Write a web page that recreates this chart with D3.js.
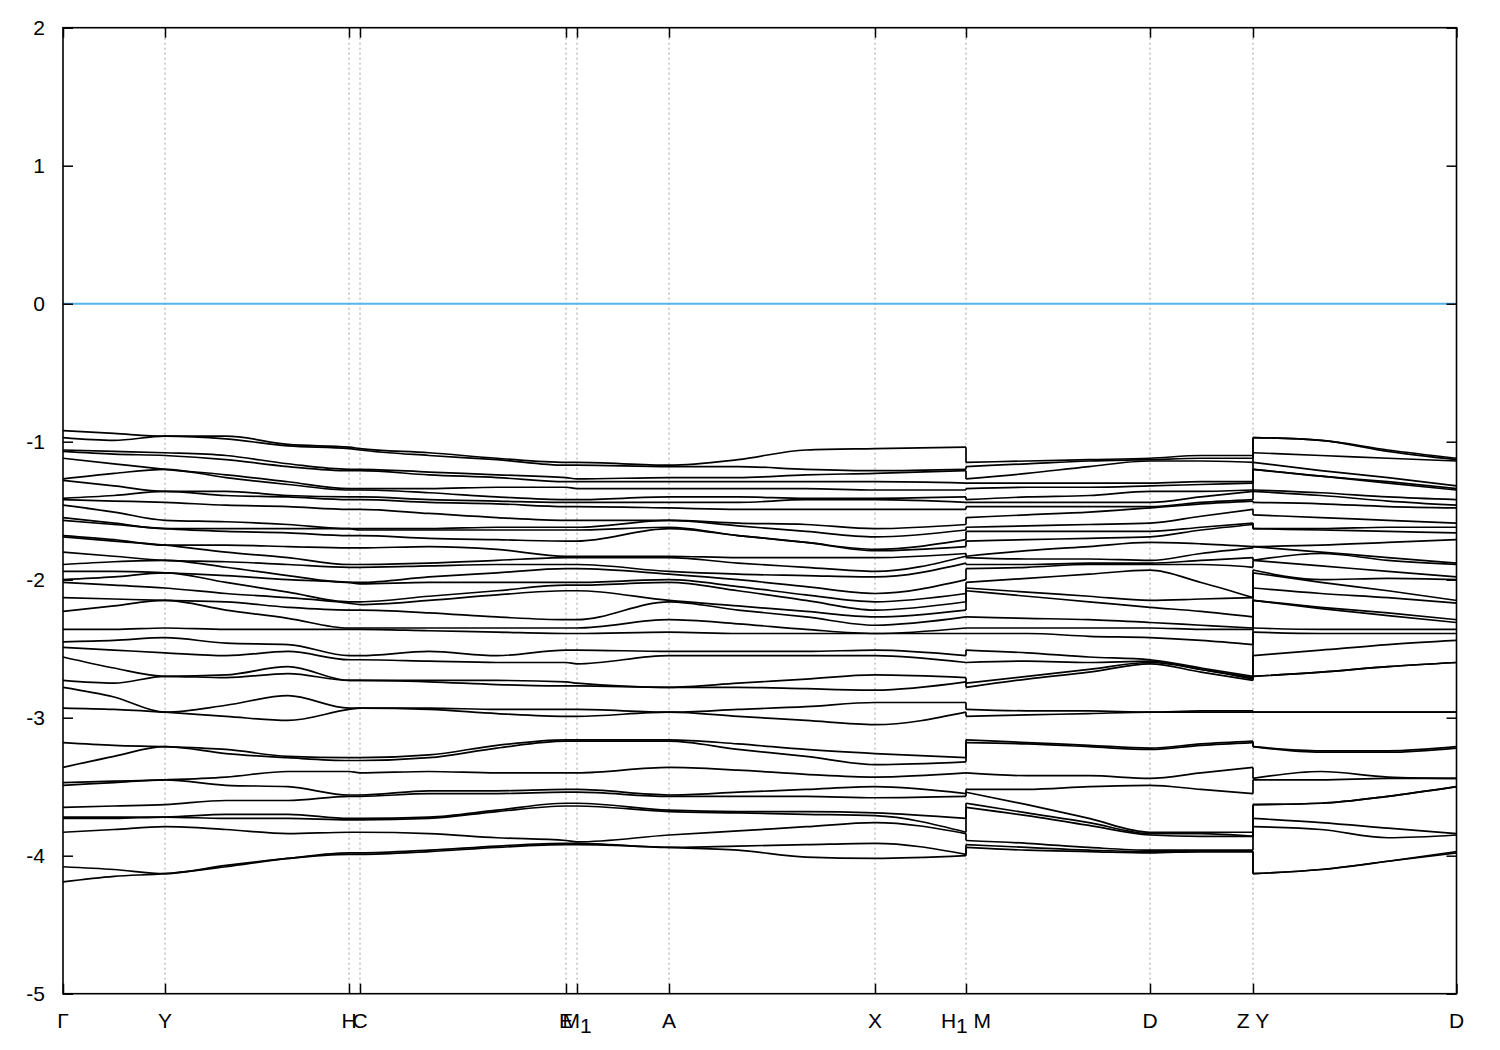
<!DOCTYPE html>
<html><head><meta charset="utf-8">
<script src="https://cdn.jsdelivr.net/npm/d3@7"></script>
<style>body{margin:0;background:#fff}</style>
</head><body><svg id="c" width="1500" height="1050"></svg>
<script>
// ---- data ----
const yTicks = [2, 1, 0, -1, -2, -3, -4, -5];
const kTicks = [0, 1.02, 2.86, 2.97, 5.03, 5.14, 6.06, 8.12, 9.03, 10.87, 11.90, 13.935];
const kLabels = ["Γ", "Y", "H", "C", "E", "M_1", "A", "X", "H_1 M", "D", "Z Y", "D"];
const fermiLevel = 0;

// k grid for the three continuous pieces of the path
const k1 = [0, 0.51, 1.02, 1.63, 2.25, 2.86, 2.97, 3.66, 4.34, 5.03, 5.14, 6.06, 6.75, 7.43, 8.12, 9.03];
const k2 = [9.03, 9.64, 10.26, 10.87, 11.38, 11.90];
const k3 = [11.90, 12.58, 13.25, 13.935];

// band energies (eV), one array per k column, bands sorted from top to bottom
const seg1 = [
 [-0.92,-0.97,-1.06,-1.07,-1.12,-1.27,-1.28,-1.41,-1.42,-1.46,-1.55,-1.57,-1.68,-1.69,-1.80,-1.89,-1.94,-2.00,-2.02,-2.13,-2.23,-2.36,-2.45,-2.49,-2.56,-2.73,-2.78,-2.93,-3.18,-3.36,-3.47,-3.49,-3.65,-3.72,-3.73,-3.83,-4.08,-4.19],
 [-0.94,-0.99,-1.07,-1.09,-1.16,-1.23,-1.32,-1.39,-1.43,-1.51,-1.59,-1.60,-1.71,-1.72,-1.83,-1.87,-1.94,-1.98,-2.04,-2.14,-2.19,-2.36,-2.44,-2.51,-2.64,-2.75,-2.85,-2.94,-3.20,-3.28,-3.46,-3.47,-3.64,-3.72,-3.73,-3.81,-4.10,-4.15],
 [-0.96,-0.96,-1.08,-1.10,-1.20,-1.20,-1.36,-1.36,-1.44,-1.57,-1.63,-1.63,-1.75,-1.75,-1.86,-1.86,-1.95,-1.95,-2.06,-2.15,-2.15,-2.35,-2.42,-2.53,-2.70,-2.70,-2.96,-2.96,-3.21,-3.21,-3.45,-3.45,-3.63,-3.72,-3.72,-3.79,-4.13,-4.13],
 [-0.96,-0.98,-1.10,-1.13,-1.24,-1.26,-1.36,-1.39,-1.46,-1.58,-1.63,-1.65,-1.75,-1.80,-1.87,-1.91,-1.97,-2.02,-2.10,-2.16,-2.22,-2.36,-2.46,-2.55,-2.69,-2.71,-2.91,-2.99,-3.23,-3.26,-3.43,-3.49,-3.60,-3.70,-3.73,-3.81,-4.07,-4.08],
 [-1.02,-1.03,-1.16,-1.18,-1.29,-1.31,-1.39,-1.40,-1.47,-1.60,-1.63,-1.66,-1.76,-1.84,-1.89,-1.97,-2.00,-2.09,-2.13,-2.20,-2.28,-2.36,-2.47,-2.52,-2.63,-2.68,-2.84,-3.02,-3.28,-3.29,-3.39,-3.50,-3.60,-3.70,-3.73,-3.84,-4.02,-4.02],
 [-1.04,-1.05,-1.20,-1.21,-1.34,-1.35,-1.40,-1.42,-1.49,-1.63,-1.63,-1.68,-1.77,-1.89,-1.91,-2.02,-2.02,-2.16,-2.17,-2.22,-2.35,-2.36,-2.55,-2.58,-2.73,-2.73,-2.93,-2.94,-3.29,-3.31,-3.39,-3.56,-3.57,-3.73,-3.74,-3.83,-3.98,-3.99],
 [-1.05,-1.06,-1.20,-1.21,-1.34,-1.35,-1.40,-1.42,-1.49,-1.63,-1.64,-1.68,-1.77,-1.89,-1.91,-2.02,-2.03,-2.16,-2.18,-2.22,-2.35,-2.36,-2.55,-2.58,-2.73,-2.73,-2.93,-2.93,-3.29,-3.31,-3.40,-3.56,-3.57,-3.73,-3.74,-3.83,-3.98,-3.99],
 [-1.08,-1.10,-1.22,-1.24,-1.34,-1.37,-1.42,-1.44,-1.52,-1.63,-1.64,-1.70,-1.76,-1.88,-1.90,-1.98,-2.02,-2.12,-2.15,-2.24,-2.35,-2.37,-2.52,-2.59,-2.73,-2.74,-2.93,-2.94,-3.27,-3.29,-3.39,-3.53,-3.55,-3.72,-3.73,-3.84,-3.96,-3.97],
 [-1.12,-1.13,-1.24,-1.26,-1.33,-1.40,-1.43,-1.45,-1.55,-1.62,-1.64,-1.71,-1.78,-1.86,-1.89,-1.95,-2.02,-2.08,-2.11,-2.27,-2.35,-2.38,-2.55,-2.60,-2.73,-2.76,-2.94,-2.97,-3.20,-3.22,-3.40,-3.53,-3.55,-3.67,-3.68,-3.87,-3.93,-3.94],
 [-1.15,-1.17,-1.26,-1.29,-1.33,-1.42,-1.44,-1.47,-1.57,-1.62,-1.64,-1.72,-1.83,-1.84,-1.89,-1.92,-2.02,-2.04,-2.08,-2.29,-2.35,-2.39,-2.51,-2.60,-2.74,-2.77,-2.94,-2.99,-3.16,-3.17,-3.40,-3.52,-3.54,-3.62,-3.64,-3.89,-3.91,-3.92],
 [-1.15,-1.17,-1.27,-1.29,-1.34,-1.42,-1.44,-1.47,-1.57,-1.62,-1.64,-1.72,-1.83,-1.84,-1.89,-1.92,-2.02,-2.04,-2.08,-2.29,-2.35,-2.39,-2.51,-2.61,-2.75,-2.77,-2.94,-2.99,-3.16,-3.17,-3.40,-3.52,-3.54,-3.62,-3.64,-3.90,-3.91,-3.92],
 [-1.17,-1.18,-1.26,-1.29,-1.34,-1.40,-1.44,-1.48,-1.57,-1.57,-1.62,-1.63,-1.83,-1.84,-1.94,-1.96,-2.00,-2.02,-2.15,-2.16,-2.29,-2.38,-2.52,-2.55,-2.78,-2.78,-2.96,-2.96,-3.16,-3.17,-3.36,-3.56,-3.57,-3.67,-3.68,-3.85,-3.94,-3.94],
 [-1.13,-1.18,-1.26,-1.29,-1.34,-1.40,-1.44,-1.49,-1.59,-1.61,-1.68,-1.68,-1.84,-1.88,-1.96,-2.00,-2.05,-2.08,-2.19,-2.22,-2.32,-2.39,-2.52,-2.55,-2.75,-2.78,-2.94,-2.99,-3.19,-3.23,-3.38,-3.54,-3.57,-3.68,-3.69,-3.82,-3.93,-3.96],
 [-1.06,-1.20,-1.24,-1.29,-1.34,-1.41,-1.42,-1.49,-1.60,-1.65,-1.73,-1.73,-1.84,-1.91,-1.97,-2.05,-2.11,-2.15,-2.23,-2.27,-2.36,-2.39,-2.52,-2.55,-2.72,-2.79,-2.92,-3.02,-3.23,-3.28,-3.41,-3.52,-3.57,-3.68,-3.70,-3.79,-3.92,-4.01],
 [-1.05,-1.21,-1.23,-1.29,-1.35,-1.41,-1.42,-1.49,-1.63,-1.69,-1.78,-1.79,-1.84,-1.94,-1.98,-2.10,-2.16,-2.22,-2.27,-2.33,-2.39,-2.39,-2.51,-2.55,-2.69,-2.80,-2.89,-3.05,-3.26,-3.34,-3.43,-3.50,-3.58,-3.69,-3.71,-3.76,-3.91,-4.02],
 [-1.04,-1.20,-1.21,-1.30,-1.35,-1.40,-1.44,-1.49,-1.60,-1.64,-1.71,-1.76,-1.81,-1.83,-1.88,-2.00,-2.10,-2.16,-2.22,-2.27,-2.35,-2.39,-2.55,-2.60,-2.71,-2.74,-2.89,-2.96,-3.29,-3.32,-3.40,-3.55,-3.57,-3.73,-3.83,-3.84,-3.99,-4.00]
];
const seg2 = [
 [-1.15,-1.18,-1.27,-1.30,-1.34,-1.42,-1.44,-1.47,-1.55,-1.62,-1.65,-1.72,-1.83,-1.84,-1.89,-1.92,-2.02,-2.06,-2.08,-2.27,-2.35,-2.39,-2.51,-2.60,-2.75,-2.78,-2.94,-2.99,-3.16,-3.18,-3.40,-3.52,-3.54,-3.62,-3.65,-3.89,-3.92,-3.94],
 [-1.14,-1.16,-1.23,-1.30,-1.33,-1.40,-1.44,-1.47,-1.53,-1.61,-1.65,-1.71,-1.79,-1.85,-1.89,-1.91,-1.99,-2.09,-2.12,-2.28,-2.35,-2.39,-2.53,-2.59,-2.70,-2.72,-2.95,-2.98,-3.18,-3.19,-3.42,-3.52,-3.63,-3.69,-3.71,-3.91,-3.94,-3.96],
 [-1.13,-1.14,-1.18,-1.30,-1.33,-1.39,-1.44,-1.47,-1.51,-1.60,-1.65,-1.70,-1.76,-1.85,-1.88,-1.89,-1.96,-2.12,-2.16,-2.29,-2.35,-2.41,-2.56,-2.60,-2.65,-2.67,-2.95,-2.97,-3.20,-3.21,-3.42,-3.50,-3.73,-3.76,-3.78,-3.94,-3.96,-3.97],
 [-1.12,-1.13,-1.14,-1.30,-1.32,-1.36,-1.44,-1.47,-1.48,-1.59,-1.65,-1.69,-1.73,-1.86,-1.88,-1.89,-1.93,-2.15,-2.20,-2.31,-2.35,-2.42,-2.58,-2.59,-2.60,-2.61,-2.96,-2.96,-3.22,-3.23,-3.44,-3.49,-3.83,-3.84,-3.85,-3.96,-3.97,-3.98],
 [-1.10,-1.12,-1.14,-1.29,-1.31,-1.36,-1.40,-1.44,-1.45,-1.54,-1.62,-1.64,-1.74,-1.81,-1.86,-1.89,-2.02,-2.14,-2.23,-2.33,-2.36,-2.44,-2.64,-2.65,-2.65,-2.67,-2.95,-2.96,-3.19,-3.20,-3.40,-3.52,-3.83,-3.84,-3.86,-3.96,-3.97,-3.97],
 [-1.10,-1.12,-1.15,-1.29,-1.30,-1.35,-1.36,-1.42,-1.43,-1.49,-1.59,-1.60,-1.76,-1.77,-1.84,-1.91,-2.13,-2.13,-2.27,-2.35,-2.36,-2.47,-2.70,-2.71,-2.72,-2.73,-2.95,-2.96,-3.17,-3.18,-3.36,-3.55,-3.83,-3.86,-3.86,-3.96,-3.97,-3.97]
];
const seg3 = [
 [-0.97,-0.97,-1.08,-1.15,-1.20,-1.20,-1.35,-1.36,-1.44,-1.53,-1.63,-1.63,-1.76,-1.76,-1.86,-1.86,-1.93,-1.95,-2.06,-2.15,-2.15,-2.35,-2.38,-2.55,-2.70,-2.70,-2.96,-2.96,-3.21,-3.21,-3.44,-3.45,-3.63,-3.63,-3.73,-3.79,-4.13,-4.13],
 [-0.99,-0.99,-1.10,-1.21,-1.25,-1.25,-1.37,-1.39,-1.45,-1.55,-1.63,-1.64,-1.75,-1.80,-1.81,-1.90,-2.00,-2.02,-2.10,-2.20,-2.21,-2.36,-2.39,-2.51,-2.67,-2.67,-2.96,-2.96,-3.24,-3.25,-3.39,-3.45,-3.62,-3.62,-3.76,-3.81,-4.10,-4.10],
 [-1.06,-1.07,-1.12,-1.26,-1.29,-1.30,-1.40,-1.43,-1.47,-1.57,-1.62,-1.65,-1.73,-1.84,-1.86,-1.94,-1.99,-2.08,-2.13,-2.24,-2.26,-2.36,-2.39,-2.47,-2.63,-2.63,-2.96,-2.96,-3.24,-3.25,-3.43,-3.44,-3.57,-3.57,-3.80,-3.87,-4.04,-4.04],
 [-1.12,-1.13,-1.14,-1.32,-1.34,-1.35,-1.42,-1.46,-1.48,-1.59,-1.62,-1.66,-1.71,-1.88,-1.89,-1.98,-2.00,-2.15,-2.17,-2.29,-2.31,-2.36,-2.39,-2.44,-2.60,-2.60,-2.96,-2.96,-3.21,-3.22,-3.44,-3.44,-3.50,-3.50,-3.84,-3.85,-3.97,-3.98]
];

// ---- drawing ----
const L = 63, R = 1456.5, T = 27.7, B = 993.7;
const svg = d3.select("#c");
svg.append("rect").attr("width", 1500).attr("height", 1050).attr("fill", "#fff");

const x = d3.scaleLinear().domain([kTicks[0], kTicks[kTicks.length - 1]]).range([L, R]);
const y = d3.scaleLinear().domain([-5, 2]).range([B, T]);
const FONT = "'Liberation Sans', Arial, sans-serif";

// vertical dashed lines at the high-symmetry points
svg.append("g").selectAll("line").data(kTicks.slice(1, -1)).join("line")
  .attr("x1", d => x(d)).attr("x2", d => x(d)).attr("y1", T).attr("y2", B)
  .attr("stroke", "#a0a0a0").attr("stroke-width", 1).attr("stroke-dasharray", "2,3");

// Fermi level
svg.append("line").attr("x1", L).attr("x2", R).attr("y1", y(fermiLevel)).attr("y2", y(fermiLevel))
  .attr("stroke", "#56b4e9").attr("stroke-width", 2);

// bands
const line = d3.line().x(d => x(d[0])).y(d => y(d[1])).curve(d3.curveMonotoneX);
const gB = svg.append("g").attr("fill", "none").attr("stroke", "#000").attr("stroke-width", 1.7);
[[k1, seg1], [k2, seg2], [k3, seg3]].forEach(([ks, cols]) => {
  const nb = cols[0].length;
  for (let b = 0; b < nb; b++) {
    gB.append("path").attr("d", line(ks.map((k, j) => [k, cols[j][b]])));
  }
});
// vertical jumps where the path is discontinuous
[[seg1[seg1.length - 1], seg2[0], k2[0]], [seg2[seg2.length - 1], seg3[0], k3[0]]].forEach(([a, bcol, k]) => {
  a.forEach((v, i) => {
    gB.append("line").attr("x1", x(k)).attr("x2", x(k)).attr("y1", y(v)).attr("y2", y(bcol[i]));
  });
});

// frame
svg.append("rect").attr("x", L).attr("y", T).attr("width", R - L).attr("height", B - T)
  .attr("fill", "none").attr("stroke", "#000").attr("stroke-width", 1.6);

// y axes (inward ticks, mirrored)
const yl = svg.append("g").attr("transform", `translate(${L},0)`)
  .call(d3.axisLeft(y).tickValues(yTicks).tickSize(-10).tickPadding(18).tickFormat(d => String(d)));
const yr = svg.append("g").attr("transform", `translate(${R},0)`)
  .call(d3.axisRight(y).tickValues(yTicks).tickSize(-10).tickFormat(""));
// x axes ticks (inward, mirrored)
const xb = svg.append("g").attr("transform", `translate(0,${B})`)
  .call(d3.axisBottom(x).tickValues(kTicks).tickSize(-10).tickFormat(""));
const xt = svg.append("g").attr("transform", `translate(0,${T})`)
  .call(d3.axisTop(x).tickValues(kTicks).tickSize(-10).tickFormat(""));
[yl, yr, xb, xt].forEach(g => {
  g.select(".domain").remove();
  g.selectAll(".tick line").attr("stroke", "#000").attr("stroke-width", 1.5);
});
yl.selectAll("text").attr("font-family", FONT).attr("font-size", 21).attr("fill", "#000");

// k-point labels with subscripts (subscript: same size, lowered)
const gL = svg.append("g").attr("font-family", FONT).attr("font-size", 21).attr("fill", "#000");
kTicks.forEach((k, i) => {
  const t = gL.append("text").attr("x", x(k)).attr("y", 1028).attr("text-anchor", "middle");
  const parts = kLabels[i].split(/(_.)/).filter(s => s.length);
  let lowered = false;
  parts.forEach(p => {
    if (p.startsWith("_")) {
      t.append("tspan").attr("dy", 5).text(p.slice(1));
      lowered = true;
    } else {
      const s = t.append("tspan").text(p);
      if (lowered) { s.attr("dy", -5); lowered = false; }
    }
  });
});
</script>
</body></html>
